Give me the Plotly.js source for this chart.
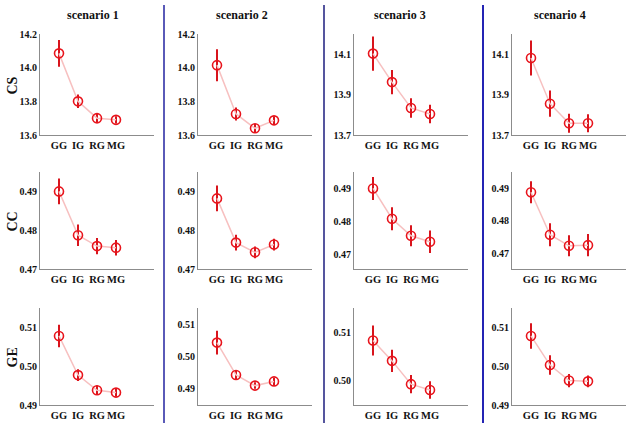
<!DOCTYPE html>
<html>
<head>
<meta charset="utf-8">
<script src="https://cdn.plot.ly/plotly-3.0.1.min.js"></script>
<style>html,body{margin:0;padding:0;background:#fff;}#chart{width:632px;height:433px;}</style>
</head>
<body>
<div id="chart"></div>
<script>
// ---- data ----
const categories = ['GG', 'IG', 'RG', 'MG'];
const scenarios = ['scenario 1', 'scenario 2', 'scenario 3', 'scenario 4'];
const metrics = ['CS', 'CC', 'GE'];

// means per scenario (rows = scenario 1..4, columns = GG, IG, RG, MG)
const csMean = [
  [14.085, 13.800, 13.700, 13.690],
  [14.015, 13.725, 13.640, 13.687],
  [14.103, 13.962, 13.834, 13.804],
  [14.081, 13.855, 13.758, 13.758]
];
const csErr = [
  [0.080, 0.040, 0.030, 0.022],
  [0.095, 0.039, 0.025, 0.025],
  [0.085, 0.060, 0.048, 0.046],
  [0.087, 0.065, 0.047, 0.045]
];
const ccMean = [
  [0.4900, 0.4787, 0.4759, 0.4755],
  [0.4882, 0.4768, 0.4743, 0.4763],
  [0.4900, 0.4808, 0.4756, 0.4738],
  [0.4888, 0.4758, 0.4724, 0.4726]
];
const ccErr = [
  [0.0033, 0.0028, 0.0021, 0.0020],
  [0.0033, 0.0020, 0.0015, 0.0015],
  [0.0035, 0.0035, 0.0032, 0.0034],
  [0.0034, 0.0035, 0.0032, 0.0034]
];
const geMean = [
  [0.5078, 0.4977, 0.4938, 0.4932],
  [0.5043, 0.4943, 0.4910, 0.4923],
  [0.5083, 0.5041, 0.4993, 0.4981],
  [0.5078, 0.5003, 0.4963, 0.4961]
];
const geErr = [
  [0.0029, 0.0015, 0.0012, 0.0011],
  [0.0037, 0.0015, 0.0010, 0.0011],
  [0.0031, 0.0023, 0.0019, 0.0018],
  [0.0033, 0.0025, 0.0017, 0.0015]
];

// ---- layout config ----
const W = 632, H = 433;
const colPx = [[40, 154], [198, 312], [354, 468], [512, 626]];
const rowPx = [[34, 135], [172, 269], [308, 405]];
const yRanges = [
  [[13.6, 14.2], [13.6, 14.2], [13.7, 14.2], [13.7, 14.2]],
  [[0.47, 0.495], [0.47, 0.495], [0.4655, 0.495], [0.4653, 0.495]],
  [[0.49, 0.515], [0.485, 0.515], [0.495, 0.515], [0.49, 0.515]]
];
const yTicks = [
  [[13.6, 13.8, 14.0, 14.2], [13.6, 13.8, 14.0, 14.2], [13.7, 13.9, 14.1], [13.7, 13.9, 14.1]],
  [[0.47, 0.48, 0.49], [0.47, 0.48, 0.49], [0.47, 0.48, 0.49], [0.47, 0.48, 0.49]],
  [[0.49, 0.50, 0.51], [0.49, 0.50, 0.51], [0.50, 0.51], [0.49, 0.50, 0.51]]
];
const yFormats = ['.1f', '.2f', '.2f'];
const titleX = [93, 242, 400, 560];
const sepX = [164, 324, 483];
const sepColors = ['#5a5ab8', '#55559e', '#2424b4'];

const FONT = 'Liberation Serif, Times New Roman, serif';
const means = [csMean, ccMean, geMean];
const errs = [csErr, ccErr, geErr];

const traces = [];
const layout = {
  width: W, height: H,
  margin: {l: 0, r: 0, t: 0, b: 0},
  paper_bgcolor: '#ffffff', plot_bgcolor: '#ffffff',
  showlegend: false,
  annotations: [], shapes: []
};

let k = 0;
for (let r = 0; r < 3; r++) {
  for (let c = 0; c < 4; c++) {
    k++;
    const sfx = (k === 1 ? '' : String(k));
    traces.push({
      type: 'scatter', mode: 'lines+markers',
      x: categories, y: means[r][c],
      xaxis: 'x' + sfx, yaxis: 'y' + sfx,
      line: {color: '#f7c0c0', width: 1.5},
      marker: {symbol: 'circle-open', size: 9, color: '#e8141c', line: {width: 1.6, color: '#e8141c'}},
      error_y: {type: 'data', array: errs[r][c], visible: true, color: '#d8141c', thickness: 2, width: 0},
      hoverinfo: 'skip'
    });
    layout['xaxis' + sfx] = {
      domain: [colPx[c][0] / W, colPx[c][1] / W],
      anchor: 'y' + sfx,
      type: 'category', categoryorder: 'array', categoryarray: categories,
      range: [-1, 5],
      showline: true, linecolor: '#8c8c8c', linewidth: 1,
      showgrid: false, zeroline: false, ticks: '', ticklabelstandoff: 0,
      tickfont: {family: FONT, size: 10.5, color: '#111', weight: 'bold'},
      fixedrange: true
    };
    layout['yaxis' + sfx] = {
      domain: [1 - rowPx[r][1] / H, 1 - rowPx[r][0] / H],
      anchor: 'x' + sfx,
      range: yRanges[r][c],
      tickvals: yTicks[r][c], tickformat: yFormats[r],
      showline: true, linecolor: '#8c8c8c', linewidth: 1,
      showgrid: false, zeroline: false, ticks: '',
      tickfont: {family: FONT, size: 10, color: '#111', weight: 'bold'},
      fixedrange: true
    };
  }
}

scenarios.forEach((s, c) => {
  layout.annotations.push({
    text: s, xref: 'paper', yref: 'paper',
    x: titleX[c] / W, y: 1 - 15 / H, xanchor: 'center', yanchor: 'middle',
    showarrow: false, font: {family: FONT, size: 12, color: '#111', weight: 'bold'}
  });
});
metrics.forEach((m, r) => {
  layout.annotations.push({
    text: m, xref: 'paper', yref: 'paper',
    x: 12 / W, y: 1 - ((rowPx[r][0] + rowPx[r][1]) / 2 + 1) / H,
    xanchor: 'center', yanchor: 'middle', textangle: -90,
    showarrow: false, font: {family: FONT, size: 14, color: '#111', weight: 'bold'}
  });
});
sepX.forEach((x, i) => {
  layout.shapes.push({
    type: 'line', xref: 'paper', yref: 'paper',
    x0: x / W, x1: x / W, y0: 1 - 5 / H, y1: 1 - 423 / H,
    line: {color: sepColors[i], width: 2}
  });
});

Plotly.newPlot('chart', traces, layout, {staticPlot: true, displayModeBar: false});
</script>
</body>
</html>
